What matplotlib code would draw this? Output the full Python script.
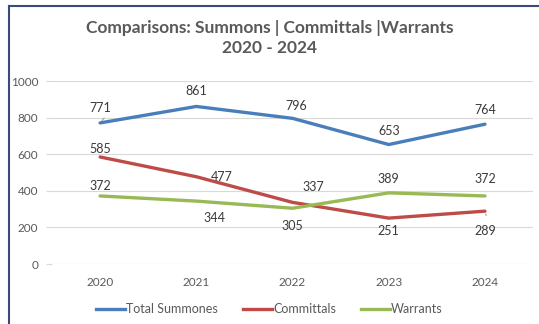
import matplotlib.pyplot as plt
from matplotlib.lines import Line2D

years = ["2020", "2021", "2022", "2023", "2024"]
summons = [771, 861, 796, 653, 764]
committals = [585, 477, 337, 251, 289]
warrants = [372, 344, 305, 389, 372]

# label offsets in points (dx, dy)
summons_off = [(0, 11), (0, 11), (3, 9), (0, 10), (0, 10)]
committals_off = [(0, 6), (18, 0), (15, 11), (0, -9), (0, -14)]
warrants_off = [(0, 7), (13, -12), (0, -13), (0, 10), (0, 12)]

plt.rcParams['font.family'] = ['Lato', 'DejaVu Sans']

fig = plt.figure(figsize=(5.39, 3.24), dpi=100)
ax = fig.add_axes([0.0965, 0.185, 0.8925, 0.565])

x = list(range(len(years)))
series = [
    ("Total Summones", summons, "#4a7ebb", summons_off),
    ("Committals", committals, "#be4b48", committals_off),
    ("Warrants", warrants, "#98b954", warrants_off),
]
for name, vals, col, offs in series:
    ax.plot(x, vals, color=col, lw=2.4, label=name, solid_capstyle="round")
    for xi, v, (dx, dy) in zip(x, vals, offs):
        ax.annotate(str(v), (xi, v), xytext=(dx, dy), textcoords="offset points",
                    ha="center", va="center", fontsize=9, color="#3a3a3a")

# leader lines for the displaced labels
ax.annotate("", (0, 771), xytext=(0.06, 810),
            arrowprops=dict(arrowstyle="-", color="#a6a6a6", lw=0.8))
ax.annotate("", (4, 289), xytext=(4.02, 250),
            arrowprops=dict(arrowstyle="-", color="#a6a6a6", lw=0.8))

ax.set_xlim(-0.5, 4.5)
ax.set_ylim(0, 1000)
ax.set_yticks(range(0, 1001, 200))
ax.set_xticks(x)
ax.set_xticklabels(years)
ax.grid(axis="y", color="#d9d9d9", lw=0.8)
ax.set_axisbelow(True)
for s in ax.spines.values():
    s.set_visible(False)
ax.tick_params(axis="y", length=4, color="#d9d9d9", labelsize=8.5, labelcolor="#595959", pad=6)
ax.tick_params(axis="x", length=0, labelsize=8.5, labelcolor="#595959", pad=9)

fig.text(0.5, 0.915, "Comparisons: Summons | Committals |Warrants", ha="center", va="center",
         fontsize=12.5, fontweight="bold", color="#595959")
fig.text(0.5, 0.853, "2020 - 2024", ha="center", va="center",
         fontsize=12.5, fontweight="bold", color="#595959")

handles = [Line2D([], [], color=c, lw=2.4) for _, _, c, _ in series]
fig.legend(handles, [n for n, _, _, _ in series], loc="center", bbox_to_anchor=(0.5, 0.045),
           ncol=3, frameon=False, fontsize=9, handlelength=2.3, handletextpad=0.1,
           columnspacing=2.0, labelcolor="#595959")

# frame border on the left and top
fig.add_artist(Line2D([8.5 / 539, 8.5 / 539], [0, 1 - 6 / 324], transform=fig.transFigure,
                      color="#3b4a7a", lw=1.5))
fig.add_artist(Line2D([8.5 / 539, 1], [1 - 6 / 324, 1 - 6 / 324], transform=fig.transFigure,
                      color="#3b4a7a", lw=1.5))

fig.savefig("out.png", dpi=100)
